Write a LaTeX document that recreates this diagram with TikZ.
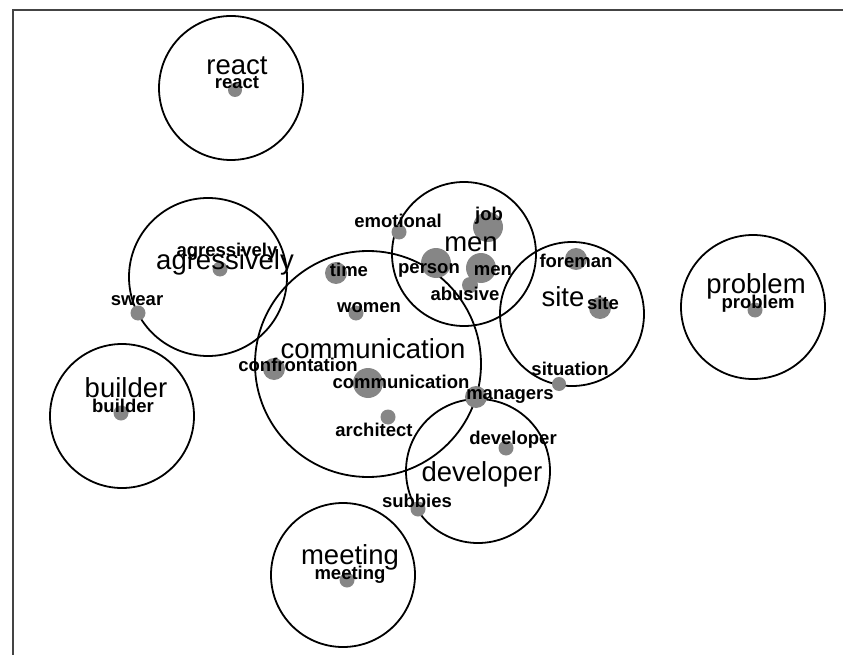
\documentclass[tikz,border=0pt]{standalone}
\usepackage{fontspec}
\setmainfont{Liberation Sans}
\usepackage{xcolor}
\definecolor{dotgray}{HTML}{868686}
\definecolor{framegray}{HTML}{444444}
\tikzset{
  cluster/.style={draw, line width=1.8pt, circle, inner sep=0pt, minimum size=#1},
  term/.style={fill=dotgray, circle, inner sep=0pt, minimum size=#1},
  small/.style={font=\fontsize{18.5}{18.5}\selectfont\bfseries, inner sep=0pt, text height=0.72em, text depth=0.21em, yshift=-4pt},
  big/.style={font=\fontsize{27.5}{27.5}\selectfont, inner sep=0pt, text height=0.72em, text depth=0.21em, yshift=-4pt}
}
\begin{document}
\begin{tikzpicture}[x=1pt,y=-1pt]
  \useasboundingbox (0,0) rectangle (843,655);
  \clip (0,0) rectangle (843,655);
  \draw[line width=1.5pt, framegray] (13,10) rectangle (870,680);

  \node [cluster=144] (c-react) at (231,88) {};
  \node [cluster=158] (c-agressively) at (208,277) {};
  \node [cluster=144] (c-builder) at (122,416) {};
  \node [cluster=226] (c-communication) at (368,364) {};
  \node [cluster=144] (c-men) at (464,254) {};
  \node [cluster=144] (c-site) at (572,314) {};
  \node [cluster=144] (c-problem) at (753,307) {};
  \node [cluster=144] (c-developer) at (478,471) {};
  \node [cluster=144] (c-meeting) at (343,575) {};

  \node [term=14] (d-react) at (235,90) {};
  \node [term=15] (d-agressively) at (220,269) {};
  \node [term=15] (d-swear) at (138,313) {};
  \node [term=15] (d-builder) at (121,413) {};
  \node [term=22] (d-time) at (336,273) {};
  \node [term=15] (d-women) at (356,313) {};
  \node [term=15] (d-emotional) at (399,232) {};
  \node [term=30] (d-job) at (488,227) {};
  \node [term=30] (d-person) at (436,263) {};
  \node [term=30] (d-men) at (481,268) {};
  \node [term=16] (d-abusive) at (470,285) {};
  \node [term=22] (d-foreman) at (576,259) {};
  \node [term=22] (d-site) at (600,308) {};
  \node [term=15] (d-problem) at (755,310) {};
  \node [term=22] (d-confrontation) at (274,369) {};
  \node [term=30] (d-communication) at (368,383) {};
  \node [term=15] (d-architect) at (388,417) {};
  \node [term=22] (d-managers) at (476,397) {};
  \node [term=14] (d-situation) at (559,384) {};
  \node [term=15] (d-developer) at (506,448) {};
  \node [term=15] (d-subbies) at (418,509) {};
  \node [term=15] (d-meeting) at (347,580) {};

  \node [small] (l-react) at (237,82) {react};
  \node [small] (l-agressively) at (227,250) {agressively};
  \node [small] (l-swear) at (137,299) {swear};
  \node [small] (l-builder) at (123,406) {builder};
  \node [small] (l-time) at (349,270) {time};
  \node [small] (l-women) at (369,306) {women};
  \node [small] (l-emotional) at (398,221) {emotional};
  \node [small] (l-job) at (489,214) {job};
  \node [small] (l-person) at (429,267) {person};
  \node [small] (l-men) at (493,269) {men};
  \node [small] (l-abusive) at (465,294) {abusive};
  \node [small] (l-foreman) at (576,261) {foreman};
  \node [small] (l-site) at (603,303) {site};
  \node [small] (l-problem) at (758,302) {problem};
  \node [small] (l-confrontation) at (298,365) {confrontation};
  \node [small] (l-communication) at (401,382) {communication};
  \node [small] (l-architect) at (374,430) {architect};
  \node [small] (l-managers) at (510,393) {managers};
  \node [small] (l-situation) at (570,369) {situation};
  \node [small] (l-developer) at (513,438) {developer};
  \node [small] (l-subbies) at (417,501) {subbies};
  \node [small] (l-meeting) at (350,573) {meeting};

  \node [big] (t-react) at (237,68) {react};
  \node [big] (t-agressively) at (225,263) {agressively};
  \node [big] (t-builder) at (126,391) {builder};
  \node [big] (t-men) at (471,245) {men};
  \node [big] (t-site) at (563,300) {site};
  \node [big] (t-problem) at (756,287) {problem};
  \node [big] (t-communication) at (373,352) {communication};
  \node [big] (t-developer) at (482,475) {developer};
  \node [big] (t-meeting) at (350,558) {meeting};
\end{tikzpicture}
\end{document}
